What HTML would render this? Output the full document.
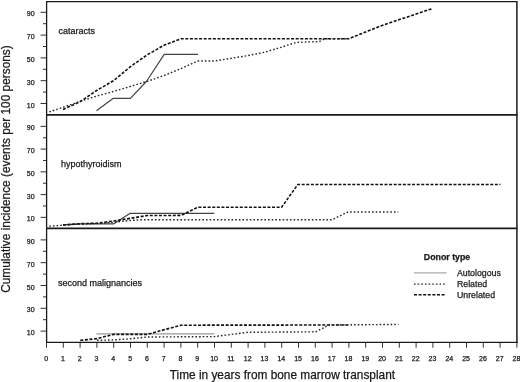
<!DOCTYPE html><html><head><meta charset="utf-8"><style>html,body{margin:0;padding:0;background:#fff;}svg{display:block;will-change:transform;}text{font-family:"Liberation Sans",sans-serif;stroke:#1a1a1a;stroke-width:0.25px;}</style></head><body>
<svg width="520" height="382" viewBox="0 0 520 382">
<rect width="520" height="382" fill="#fff"/>
<line x1="40.6" y1="103.50" x2="46.6" y2="103.50" stroke="#333" stroke-width="1"/>
<text x="34.6" y="107.60" font-size="7" text-anchor="end" fill="#1a1a1a">10</text>
<line x1="43.0" y1="92.10" x2="46.6" y2="92.10" stroke="#333" stroke-width="1"/>
<line x1="40.6" y1="80.70" x2="46.6" y2="80.70" stroke="#333" stroke-width="1"/>
<text x="34.6" y="84.80" font-size="7" text-anchor="end" fill="#1a1a1a">30</text>
<line x1="43.0" y1="69.30" x2="46.6" y2="69.30" stroke="#333" stroke-width="1"/>
<line x1="40.6" y1="57.90" x2="46.6" y2="57.90" stroke="#333" stroke-width="1"/>
<text x="34.6" y="62.00" font-size="7" text-anchor="end" fill="#1a1a1a">50</text>
<line x1="43.0" y1="46.50" x2="46.6" y2="46.50" stroke="#333" stroke-width="1"/>
<line x1="40.6" y1="35.10" x2="46.6" y2="35.10" stroke="#333" stroke-width="1"/>
<text x="34.6" y="39.20" font-size="7" text-anchor="end" fill="#1a1a1a">70</text>
<line x1="43.0" y1="23.70" x2="46.6" y2="23.70" stroke="#333" stroke-width="1"/>
<line x1="40.6" y1="12.30" x2="46.6" y2="12.30" stroke="#333" stroke-width="1"/>
<text x="34.6" y="16.40" font-size="7" text-anchor="end" fill="#1a1a1a">90</text>
<line x1="40.6" y1="217.33" x2="46.6" y2="217.33" stroke="#333" stroke-width="1"/>
<text x="34.6" y="221.43" font-size="7" text-anchor="end" fill="#1a1a1a">10</text>
<line x1="43.0" y1="205.96" x2="46.6" y2="205.96" stroke="#333" stroke-width="1"/>
<line x1="40.6" y1="194.59" x2="46.6" y2="194.59" stroke="#333" stroke-width="1"/>
<text x="34.6" y="198.69" font-size="7" text-anchor="end" fill="#1a1a1a">30</text>
<line x1="43.0" y1="183.22" x2="46.6" y2="183.22" stroke="#333" stroke-width="1"/>
<line x1="40.6" y1="171.85" x2="46.6" y2="171.85" stroke="#333" stroke-width="1"/>
<text x="34.6" y="175.95" font-size="7" text-anchor="end" fill="#1a1a1a">50</text>
<line x1="43.0" y1="160.48" x2="46.6" y2="160.48" stroke="#333" stroke-width="1"/>
<line x1="40.6" y1="149.11" x2="46.6" y2="149.11" stroke="#333" stroke-width="1"/>
<text x="34.6" y="153.21" font-size="7" text-anchor="end" fill="#1a1a1a">70</text>
<line x1="43.0" y1="137.74" x2="46.6" y2="137.74" stroke="#333" stroke-width="1"/>
<line x1="40.6" y1="126.37" x2="46.6" y2="126.37" stroke="#333" stroke-width="1"/>
<text x="34.6" y="130.47" font-size="7" text-anchor="end" fill="#1a1a1a">90</text>
<line x1="40.6" y1="331.10" x2="46.6" y2="331.10" stroke="#333" stroke-width="1"/>
<text x="34.6" y="335.20" font-size="7" text-anchor="end" fill="#1a1a1a">10</text>
<line x1="43.0" y1="319.70" x2="46.6" y2="319.70" stroke="#333" stroke-width="1"/>
<line x1="40.6" y1="308.30" x2="46.6" y2="308.30" stroke="#333" stroke-width="1"/>
<text x="34.6" y="312.40" font-size="7" text-anchor="end" fill="#1a1a1a">30</text>
<line x1="43.0" y1="296.90" x2="46.6" y2="296.90" stroke="#333" stroke-width="1"/>
<line x1="40.6" y1="285.50" x2="46.6" y2="285.50" stroke="#333" stroke-width="1"/>
<text x="34.6" y="289.60" font-size="7" text-anchor="end" fill="#1a1a1a">50</text>
<line x1="43.0" y1="274.10" x2="46.6" y2="274.10" stroke="#333" stroke-width="1"/>
<line x1="40.6" y1="262.70" x2="46.6" y2="262.70" stroke="#333" stroke-width="1"/>
<text x="34.6" y="266.80" font-size="7" text-anchor="end" fill="#1a1a1a">70</text>
<line x1="43.0" y1="251.30" x2="46.6" y2="251.30" stroke="#333" stroke-width="1"/>
<line x1="40.6" y1="239.90" x2="46.6" y2="239.90" stroke="#333" stroke-width="1"/>
<text x="34.6" y="244.00" font-size="7" text-anchor="end" fill="#1a1a1a">90</text>
<line x1="46.50" y1="342.3" x2="46.50" y2="347.7" stroke="#333" stroke-width="1"/>
<text x="46.10" y="361.3" font-size="7" text-anchor="middle" fill="#1a1a1a">0</text>
<line x1="63.30" y1="342.3" x2="63.30" y2="347.7" stroke="#333" stroke-width="1"/>
<text x="62.90" y="361.3" font-size="7" text-anchor="middle" fill="#1a1a1a">1</text>
<line x1="80.10" y1="342.3" x2="80.10" y2="347.7" stroke="#333" stroke-width="1"/>
<text x="79.70" y="361.3" font-size="7" text-anchor="middle" fill="#1a1a1a">2</text>
<line x1="96.90" y1="342.3" x2="96.90" y2="347.7" stroke="#333" stroke-width="1"/>
<text x="96.50" y="361.3" font-size="7" text-anchor="middle" fill="#1a1a1a">3</text>
<line x1="113.70" y1="342.3" x2="113.70" y2="347.7" stroke="#333" stroke-width="1"/>
<text x="113.30" y="361.3" font-size="7" text-anchor="middle" fill="#1a1a1a">4</text>
<line x1="130.50" y1="342.3" x2="130.50" y2="347.7" stroke="#333" stroke-width="1"/>
<text x="130.10" y="361.3" font-size="7" text-anchor="middle" fill="#1a1a1a">5</text>
<line x1="147.30" y1="342.3" x2="147.30" y2="347.7" stroke="#333" stroke-width="1"/>
<text x="146.90" y="361.3" font-size="7" text-anchor="middle" fill="#1a1a1a">6</text>
<line x1="164.10" y1="342.3" x2="164.10" y2="347.7" stroke="#333" stroke-width="1"/>
<text x="163.70" y="361.3" font-size="7" text-anchor="middle" fill="#1a1a1a">7</text>
<line x1="180.90" y1="342.3" x2="180.90" y2="347.7" stroke="#333" stroke-width="1"/>
<text x="180.50" y="361.3" font-size="7" text-anchor="middle" fill="#1a1a1a">8</text>
<line x1="197.70" y1="342.3" x2="197.70" y2="347.7" stroke="#333" stroke-width="1"/>
<text x="197.30" y="361.3" font-size="7" text-anchor="middle" fill="#1a1a1a">9</text>
<line x1="214.50" y1="342.3" x2="214.50" y2="347.7" stroke="#333" stroke-width="1"/>
<text x="214.10" y="361.3" font-size="7" text-anchor="middle" fill="#1a1a1a">10</text>
<line x1="231.30" y1="342.3" x2="231.30" y2="347.7" stroke="#333" stroke-width="1"/>
<text x="230.90" y="361.3" font-size="7" text-anchor="middle" fill="#1a1a1a">11</text>
<line x1="248.10" y1="342.3" x2="248.10" y2="347.7" stroke="#333" stroke-width="1"/>
<text x="247.70" y="361.3" font-size="7" text-anchor="middle" fill="#1a1a1a">12</text>
<line x1="264.90" y1="342.3" x2="264.90" y2="347.7" stroke="#333" stroke-width="1"/>
<text x="264.50" y="361.3" font-size="7" text-anchor="middle" fill="#1a1a1a">13</text>
<line x1="281.70" y1="342.3" x2="281.70" y2="347.7" stroke="#333" stroke-width="1"/>
<text x="281.30" y="361.3" font-size="7" text-anchor="middle" fill="#1a1a1a">14</text>
<line x1="298.50" y1="342.3" x2="298.50" y2="347.7" stroke="#333" stroke-width="1"/>
<text x="298.10" y="361.3" font-size="7" text-anchor="middle" fill="#1a1a1a">15</text>
<line x1="315.30" y1="342.3" x2="315.30" y2="347.7" stroke="#333" stroke-width="1"/>
<text x="314.90" y="361.3" font-size="7" text-anchor="middle" fill="#1a1a1a">16</text>
<line x1="332.10" y1="342.3" x2="332.10" y2="347.7" stroke="#333" stroke-width="1"/>
<text x="331.70" y="361.3" font-size="7" text-anchor="middle" fill="#1a1a1a">17</text>
<line x1="348.90" y1="342.3" x2="348.90" y2="347.7" stroke="#333" stroke-width="1"/>
<text x="348.50" y="361.3" font-size="7" text-anchor="middle" fill="#1a1a1a">18</text>
<line x1="365.70" y1="342.3" x2="365.70" y2="347.7" stroke="#333" stroke-width="1"/>
<text x="365.30" y="361.3" font-size="7" text-anchor="middle" fill="#1a1a1a">19</text>
<line x1="382.50" y1="342.3" x2="382.50" y2="347.7" stroke="#333" stroke-width="1"/>
<text x="382.10" y="361.3" font-size="7" text-anchor="middle" fill="#1a1a1a">20</text>
<line x1="399.30" y1="342.3" x2="399.30" y2="347.7" stroke="#333" stroke-width="1"/>
<text x="398.90" y="361.3" font-size="7" text-anchor="middle" fill="#1a1a1a">21</text>
<line x1="416.10" y1="342.3" x2="416.10" y2="347.7" stroke="#333" stroke-width="1"/>
<text x="415.70" y="361.3" font-size="7" text-anchor="middle" fill="#1a1a1a">22</text>
<line x1="432.90" y1="342.3" x2="432.90" y2="347.7" stroke="#333" stroke-width="1"/>
<text x="432.50" y="361.3" font-size="7" text-anchor="middle" fill="#1a1a1a">23</text>
<line x1="449.70" y1="342.3" x2="449.70" y2="347.7" stroke="#333" stroke-width="1"/>
<text x="449.30" y="361.3" font-size="7" text-anchor="middle" fill="#1a1a1a">24</text>
<line x1="466.50" y1="342.3" x2="466.50" y2="347.7" stroke="#333" stroke-width="1"/>
<text x="466.10" y="361.3" font-size="7" text-anchor="middle" fill="#1a1a1a">25</text>
<line x1="483.30" y1="342.3" x2="483.30" y2="347.7" stroke="#333" stroke-width="1"/>
<text x="482.90" y="361.3" font-size="7" text-anchor="middle" fill="#1a1a1a">26</text>
<line x1="500.10" y1="342.3" x2="500.10" y2="347.7" stroke="#333" stroke-width="1"/>
<text x="499.70" y="361.3" font-size="7" text-anchor="middle" fill="#1a1a1a">27</text>
<line x1="516.90" y1="342.3" x2="516.90" y2="347.7" stroke="#333" stroke-width="1"/>
<text x="516.50" y="361.3" font-size="7" text-anchor="middle" fill="#1a1a1a">28</text>
<line x1="46.6" y1="1.6" x2="516.9" y2="1.6" stroke="#1a1a1a" stroke-width="1.2"/>
<line x1="46.6" y1="1" x2="46.6" y2="342.9" stroke="#1a1a1a" stroke-width="1.3"/>
<line x1="516.9" y1="1" x2="516.9" y2="342.9" stroke="#1a1a1a" stroke-width="1.5"/>
<line x1="46" y1="342.3" x2="517.5" y2="342.3" stroke="#1a1a1a" stroke-width="1.3"/>
<line x1="46" y1="114.9" x2="517.5" y2="114.9" stroke="#1a1a1a" stroke-width="1.7"/>
<line x1="46" y1="228.4" x2="517.5" y2="228.4" stroke="#1a1a1a" stroke-width="1.7"/>
<polyline points="96.5,110.7 113.3,98.3 130.4,98.3 146.8,81.0 164.2,54.4 198.0,54.4" fill="none" stroke="#444" stroke-width="1.2" stroke-linejoin="round"/>
<polyline points="63.0,109.5 80.2,101.6 97.0,90.3 113.8,80.5 130.5,66.6 147.3,54.8 164.1,45.2 180.9,38.8 348.6,38.8 382.1,25.4 432.6,8.5" fill="none" stroke="#111" stroke-width="1.6" stroke-dasharray="3.0 1.6"/>
<polyline points="49.3,111.9 63.5,107.1 80.2,101.3 97.0,96.0 113.8,91.4 130.5,86.4 147.3,81.3 164.1,75.5 180.9,68.6 197.6,61.0 214.4,61.0 247.9,55.6 264.7,52.2 281.5,47.2 296.0,42.4 319.0,41.6 325.0,38.8 348.6,38.8" fill="none" stroke="#262626" stroke-width="1.4" stroke-dasharray="1.6 2.05"/>
<polyline points="63.5,224.9 80.2,223.9 113.8,223.8 129.8,213.4 214.3,213.4" fill="none" stroke="#444" stroke-width="1.2" stroke-linejoin="round"/>
<polyline points="63.0,224.9 80.2,223.7 97.0,223.2 113.8,221.0 130.5,218.3 147.3,215.5 181.4,215.4 197.5,207.3 281.6,207.3 297.8,184.5 500.5,184.5" fill="none" stroke="#111" stroke-width="1.6" stroke-dasharray="3.0 1.6"/>
<polyline points="49.3,226.3 63.5,225.1 80.2,224.1 97.0,223.6 113.8,222.3 128.8,220.6 140.4,219.8 332.1,219.8 347.7,212.0 398.3,212.0" fill="none" stroke="#262626" stroke-width="1.4" stroke-dasharray="1.6 2.05"/>
<polyline points="96.4,333.8 214.3,333.8" fill="none" stroke="#999" stroke-width="1.3"/>
<polyline points="80.3,340.4 97.0,338.6 113.6,334.4 147.3,334.4 165.4,329.4 180.9,325.2 348.3,325.0" fill="none" stroke="#111" stroke-width="1.6" stroke-dasharray="3.0 1.6"/>
<polyline points="97.0,340.3 113.8,339.9 130.5,338.8 147.3,337.0 214.4,336.6 247.9,332.3 315.8,331.8 329.0,325.0 398.5,324.4" fill="none" stroke="#262626" stroke-width="1.4" stroke-dasharray="1.6 2.05"/>
<text x="58.6" y="33.6" font-size="9" fill="#1a1a1a">cataracts</text>
<text x="60.9" y="166.9" font-size="9" fill="#1a1a1a">hypothyroidism</text>
<text x="57.9" y="285.6" font-size="9" fill="#1a1a1a">second malignancies</text>
<text x="423.8" y="259.9" font-size="8.8" font-weight="bold" fill="#1a1a1a">Donor type</text>
<line x1="414" y1="272.8" x2="446.6" y2="272.8" stroke="#aaa" stroke-width="1.3"/>
<line x1="414" y1="284.1" x2="445.0" y2="284.1" stroke="#262626" stroke-width="1.4" stroke-dasharray="1.6 2.05"/>
<line x1="414" y1="294.8" x2="445.4" y2="294.8" stroke="#111" stroke-width="1.6" stroke-dasharray="3.0 1.6"/>
<text x="456.9" y="275.5" font-size="8.8" fill="#1a1a1a">Autologous</text>
<text x="456.9" y="286.9" font-size="8.8" fill="#1a1a1a">Related</text>
<text x="456.9" y="297.8" font-size="8.8" fill="#1a1a1a">Unrelated</text>
<text x="282.4" y="378.9" font-size="11.85" text-anchor="middle" fill="#1a1a1a">Time in years from bone marrow transplant</text>
<text transform="translate(9.6,169.1) rotate(-90)" x="0" y="0" font-size="11.85" text-anchor="middle" fill="#1a1a1a">Cumulative incidence (events per 100 persons)</text>
</svg></body></html>
